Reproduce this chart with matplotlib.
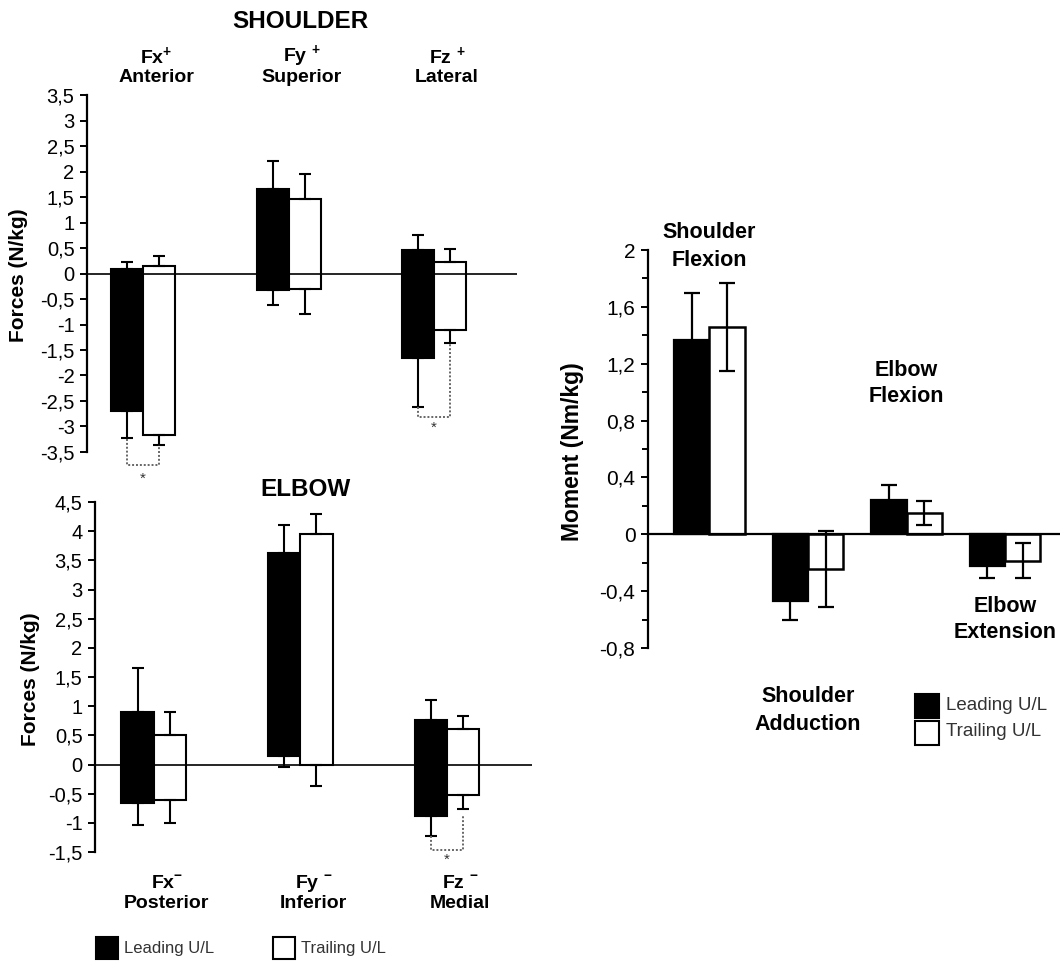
import matplotlib
matplotlib.use("Agg")
import matplotlib.pyplot as plt
import matplotlib.transforms as mtransforms
from matplotlib.patches import Rectangle
from matplotlib.ticker import MultipleLocator, FuncFormatter
import numpy as np

plt.rcParams['font.family'] = ['Liberation Sans', 'DejaVu Sans']
plt.rcParams['mathtext.fontset'] = 'custom'
plt.rcParams['mathtext.rm'] = 'Liberation Sans'
plt.rcParams['mathtext.bf'] = 'Liberation Sans:bold'

# ---------------- data ----------------
# Shoulder joint forces (N/kg): upper / lower peak of each bar and their SDs
sh_names = ["Fx$^{\\mathbf{+}}$", "Fy $^{\\mathbf{+}}$", "Fz $^{\\mathbf{+}}$"]
sh_dirs = ["Anterior", "Superior", "Lateral"]
sh_lead_max = [0.085, 1.65, 0.46]
sh_lead_max_sd = [0.145, 0.56, 0.30]
sh_lead_min = [-2.69, -0.33, -1.66]
sh_lead_min_sd = [0.53, 0.29, 0.96]
sh_trail_max = [0.14, 1.47, 0.23]
sh_trail_max_sd = [0.20, 0.48, 0.26]
sh_trail_min = [-3.16, -0.31, -1.11]
sh_trail_min_sd = [0.21, 0.49, 0.26]

# Elbow joint forces (N/kg)
el_names = ["Fx$^{\\mathbf{-}}$", "Fy $^{\\mathbf{-}}$", "Fz $^{\\mathbf{-}}$"]
el_dirs = ["Posterior", "Inferior", "Medial"]
el_lead_max = [0.90, 3.62, 0.77]
el_lead_max_sd = [0.76, 0.49, 0.33]
el_lead_min = [-0.66, 0.14, -0.89]
el_lead_min_sd = [0.37, 0.19, 0.34]
el_trail_max = [0.50, 3.95, 0.61]
el_trail_max_sd = [0.40, 0.35, 0.23]
el_trail_min = [-0.60, 0.0, -0.52]
el_trail_min_sd = [0.40, 0.37, 0.25]

# Joint moments (Nm/kg)
mom_names = ["Shoulder\nFlexion", "Shoulder\nAdduction", "Elbow\nFlexion", "Elbow\nExtension"]
mom_lead = [1.365, -0.472, 0.244, -0.223]
mom_lead_sd = [0.33, 0.133, 0.105, 0.086]
mom_trail = [1.458, -0.244, 0.149, -0.186]
mom_trail_sd = [0.31, 0.27, 0.085, 0.124]

series_names = ["Leading U/L", "Trailing U/L"]

# ---------------- figure ----------------
W, H = 1060, 973
fig = plt.figure(figsize=(W / 100, H / 100), dpi=100)


def px_axes(x0, x1, y_top, y_bot):
    return fig.add_axes([x0 / W, 1 - y_bot / H, (x1 - x0) / W, (y_bot - y_top) / H])


def comma_fmt(v, _pos):
    v = round(v, 2)
    if abs(v) < 1e-9:
        v = 0.0
    return f"{v:g}".replace(".", ",")


def style_axis(ax, lo, hi, major, minor=None, tick_fs=14):
    ax.set_ylim(lo, hi)
    for s in ("top", "right", "bottom"):
        ax.spines[s].set_visible(False)
    ax.spines["left"].set_linewidth(1.6)
    ax.spines["left"].set_bounds(lo, hi)
    ax.set_xticks([])
    ax.yaxis.set_major_locator(MultipleLocator(major))
    if minor:
        ax.yaxis.set_minor_locator(MultipleLocator(minor))
        ax.tick_params(axis="y", which="minor", length=4, width=1.4)
    ax.yaxis.set_major_formatter(FuncFormatter(comma_fmt))
    ax.tick_params(axis="y", which="major", length=5, width=1.4, pad=4, labelsize=tick_fs)
    ax.patch.set_visible(False)


def force_panel(ax, lead, trail, bw):
    x = np.arange(3)
    zeros = np.zeros(3)
    for off, (mx, mx_sd, mn, mn_sd), fc in ((-bw / 2, lead, "black"), (bw / 2, trail, "white")):
        mx, mn = np.asarray(mx), np.asarray(mn)
        ax.bar(x + off, mx - mn, bottom=mn, width=bw, color=fc, edgecolor="black",
               linewidth=1.5, zorder=2)
        ax.errorbar(x + off, mx, yerr=[zeros, mx_sd], fmt="none", ecolor="black",
                    elinewidth=1.5, capsize=4.3, capthick=1.5, zorder=3, clip_on=False)
        ax.errorbar(x + off, mn, yerr=[mn_sd, zeros], fmt="none", ecolor="black",
                    elinewidth=1.5, capsize=4.3, capthick=1.5, zorder=3, clip_on=False)
    ax.axhline(0, color="black", linewidth=1.2, zorder=4)


def bracket(ax, i, bw, y_lead, y_low, y_trail, y_star):
    xl, xt = i - bw / 2, i + bw / 2
    ax.plot([xl, xl, xt, xt], [y_lead, y_low, y_low, y_trail], color="#666666",
            linestyle=(0, (1, 1)), linewidth=1.4, clip_on=False, zorder=3)
    ax.text(i, y_star, "*", ha="center", va="center", fontsize=11, color="#333333")


def group_text(ax, x, py, s, **kw):
    tr = mtransforms.blended_transform_factory(ax.transData, fig.transFigure)
    ax.text(x, 1 - py / H, s, transform=tr, ha="center", va="center", **kw)


def fig_text(px, py, s, **kw):
    fig.text(px / W, 1 - py / H, s, ha=kw.pop("ha", "center"), va=kw.pop("va", "center"), **kw)


def legend_box(px, py, size, fc):
    fig.add_artist(Rectangle((px / W, 1 - (py + size) / H), size / W, size / H,
                             transform=fig.transFigure, facecolor=fc, edgecolor="black",
                             linewidth=1.5))


# ---- shoulder forces ----
ax1 = px_axes(87, 517, 95, 452)
bw1 = 0.22
force_panel(ax1, (sh_lead_max, sh_lead_max_sd, sh_lead_min, sh_lead_min_sd),
            (sh_trail_max, sh_trail_max_sd, sh_trail_min, sh_trail_min_sd), bw1)
ax1.set_xlim(-0.385, 2.570)
style_axis(ax1, -3.5, 3.5, 0.5, tick_fs=14.5)
bracket(ax1, 0, bw1, -3.25, -3.76, -3.37, -4.02)
bracket(ax1, 2, bw1, -2.62, -2.82, -1.37, -3.03)
for i in range(3):
    group_text(ax1, i + 0.09, 57, sh_names[i], fontsize=14, fontweight="bold")
    group_text(ax1, i + 0.09, 77, sh_dirs[i], fontsize=14, fontweight="bold")
fig_text(300, 22, "SHOULDER", fontsize=17.5, fontweight="bold")
fig_text(19, 275, "Forces (N/kg)", fontsize=15, fontweight="bold", rotation=90)

# ---- elbow forces ----
ax2 = px_axes(95, 532, 502, 852)
bw2 = 0.22
force_panel(ax2, (el_lead_max, el_lead_max_sd, el_lead_min, el_lead_min_sd),
            (el_trail_max, el_trail_max_sd, el_trail_min, el_trail_min_sd), bw2)
ax2.set_xlim(-0.40, 2.58)
style_axis(ax2, -1.5, 4.5, 0.5, tick_fs=14.5)
bracket(ax2, 2, bw2, -1.23, -1.47, -0.88, -1.64)
for i in range(3):
    group_text(ax2, i + 0.09, 884, el_names[i], fontsize=14, fontweight="bold")
    group_text(ax2, i + 0.09, 903, el_dirs[i], fontsize=14, fontweight="bold")
fig_text(306, 490, "ELBOW", fontsize=17.5, fontweight="bold")
fig_text(30, 679, "Forces (N/kg)", fontsize=15, fontweight="bold", rotation=90)

legend_box(96, 937, 22, "black")
fig_text(124, 948, series_names[0], ha="left", fontsize=12, color="#333333")
legend_box(273, 937, 22, "white")
fig_text(301, 948, series_names[1], ha="left", fontsize=12, color="#333333")

# ---- joint moments ----
ax3 = px_axes(648, 1060, 250, 648)
bw3 = 0.36
xm = np.arange(4)
ax3.bar(xm - bw3 / 2, mom_lead, width=bw3, color="black", edgecolor="black", linewidth=1.6, zorder=2)
ax3.bar(xm + bw3 / 2, mom_trail, width=bw3, color="white", edgecolor="black", linewidth=1.8, zorder=2)
ax3.errorbar(xm - bw3 / 2, mom_lead, yerr=mom_lead_sd, fmt="none", ecolor="black",
             elinewidth=1.6, capsize=5.5, capthick=1.6, zorder=3)
ax3.errorbar(xm + bw3 / 2, mom_trail, yerr=mom_trail_sd, fmt="none", ecolor="black",
             elinewidth=1.6, capsize=5.5, capthick=1.6, zorder=3)
ax3.axhline(0, color="black", linewidth=1.6, zorder=4)
ax3.set_xlim(-0.624, 3.558)
style_axis(ax3, -0.8, 2.0, 0.4, minor=0.2, tick_fs=15)

mom_label_y = [(233, 261), (697, 724), (370, 397), (607, 633)]
for i, name in enumerate(mom_names):
    top, bottom = name.split("\n")
    group_text(ax3, i, mom_label_y[i][0], top, fontsize=15.5, fontweight="bold")
    group_text(ax3, i, mom_label_y[i][1], bottom, fontsize=15.5, fontweight="bold")
fig_text(573, 452, "Moment (Nm/kg)", fontsize=16.5, fontweight="bold", rotation=90)

legend_box(915, 694, 24, "black")
fig_text(946, 705, series_names[0], ha="left", fontsize=13.5, color="#333333")
legend_box(915, 721, 24, "white")
fig_text(946, 732, series_names[1], ha="left", fontsize=13.5, color="#333333")

fig.savefig("out.png", dpi=100, facecolor="white")
